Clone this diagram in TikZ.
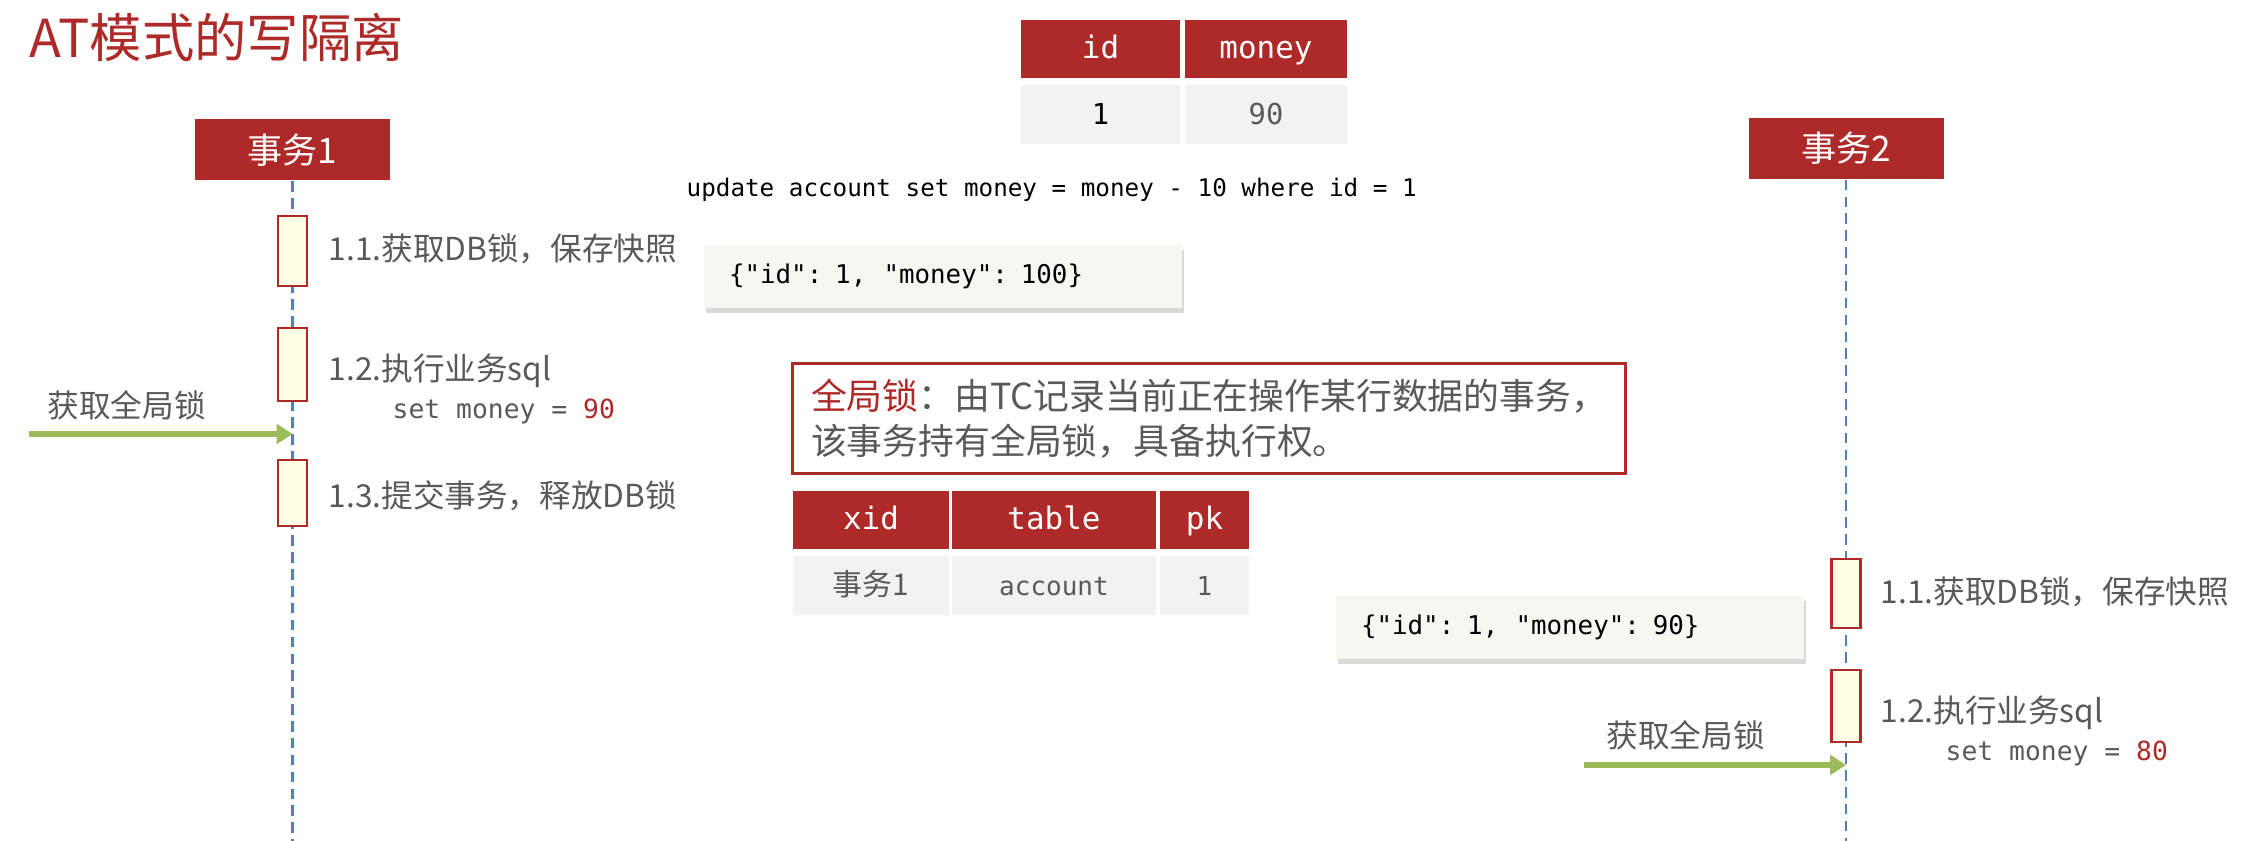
\documentclass[tikz,border=0pt]{standalone}
\usepackage{fontspec}
\setmainfont{Noto Sans CJK SC}
\newfontfamily\codefont{DejaVu Sans Mono}
\usetikzlibrary{positioning, arrows.meta, shadows}

\definecolor{atRed}{RGB}{174,42,40}
\definecolor{actFill}{RGB}{255,255,230}
\definecolor{lockGreen}{RGB}{155,187,89}
\definecolor{lifeBlue}{RGB}{79,129,189}
\definecolor{snapFill}{RGB}{244,248,240}
\definecolor{rowGray}{RGB}{242,242,242}
\definecolor{txtGray}{RGB}{89,89,89}

\begin{document}
\begin{tikzpicture}[
  font=\fontsize{9}{11}\selectfont,
  hdrbox/.style   = {fill=atRed, text=white, minimum width=1.95cm, minimum height=0.61cm, inner sep=0pt, font=\fontsize{10}{12}\selectfont},
  actbox/.style   = {draw=atRed, line width=0.8pt, fill=actFill, minimum width=0.29cm, inner sep=0pt},
  lifeline/.style = {lifeBlue, line width=0.6pt, dash pattern=on 3pt off 1.8pt},
  steplbl/.style  = {text=txtGray, anchor=west, inner sep=0pt},
  codelbl/.style  = {text=txtGray, anchor=west, inner sep=0pt, font=\codefont\fontsize{7.5}{9}\selectfont},
  lockarrow/.style = {lockGreen, line width=1.7pt, -{Triangle[length=4.5pt, width=5.5pt]}},
  snapbox/.style  = {fill=snapFill, drop shadow={shadow xshift=0.02cm, shadow yshift=-0.05cm, opacity=0.3},
                     minimum height=0.63cm, inner xsep=0.25cm, align=left, text=black, font=\codefont\fontsize{7.35}{9}\selectfont},
  thcell/.style   = {fill=atRed, text=white, inner sep=0pt, minimum height=0.58cm, text height=0.75em, text depth=0.2em,
                     font=\codefont\fontsize{8.8}{10}\selectfont},
  tdcell/.style   = {fill=rowGray, text=txtGray, inner sep=0pt, minimum height=0.59cm, text height=0.75em, text depth=0.2em},
]
\useasboundingbox (0,0) rectangle (22.54,-8.41);
\node[anchor=west, inner sep=0pt, text=atRed, font=\fontsize{14.9}{17}\selectfont] (title) at (0.29,-0.37) {AT模式的写隔离};

% transactions and their lifelines
\node[hdrbox] (tx1) at (2.925,-1.50) {事务1};
\node[hdrbox] (tx2) at (18.46,-1.485) {事务2};
\coordinate (tx1 end) at (2.925,-8.41);
\coordinate (tx2 end) at (18.46,-8.41);
\draw[lifeline] (tx1) -- (tx1 end);
\draw[lifeline] (tx2) -- (tx2 end);

% account row
\node[thcell, minimum width=1.59cm] (hId)    at (11.005,-0.49) {id};
\node[thcell, minimum width=1.62cm] (hMoney) at (12.66,-0.49)  {money};
\node[tdcell, minimum width=1.59cm, text=black, font=\codefont\fontsize{8.2}{10}\selectfont] (vId)    at (11.005,-1.15) {1};
\node[tdcell, minimum width=1.62cm, font=\codefont\fontsize{8.2}{10}\selectfont]             (vMoney) at (12.66,-1.15)  {90};
\node[anchor=west, inner sep=0pt, font=\codefont\fontsize{6.9}{8}\selectfont] (sql) at (6.86,-1.90)
  {update account set money = money - 10 where id = 1};

% transaction 1
\node[actbox, minimum height=0.70cm] (a11) at (2.925,-2.51) {};
\node[actbox, minimum height=0.73cm] (a12) at (2.925,-3.645) {};
\node[actbox, minimum height=0.66cm] (a13) at (2.925,-4.93) {};
\node[steplbl] (s11) at (3.28,-2.49) {1.1.获取DB锁，保存快照};
\node[steplbl] (s12) at (3.28,-3.71) {1.2.执行业务sql};
\node[codelbl] (m12) at (3.92,-4.11) {set money = \textcolor{atRed}{90}};
\node[steplbl] (s13) at (3.28,-4.96) {1.3.提交事务，释放DB锁};
\node[steplbl] (lockA lbl) at (0.47,-4.05) {获取全局锁};
\coordinate (lockA) at (0.29,-4.34);
\coordinate (lockA tip) at (2.925,-4.34);
\draw[lockarrow] (lockA) -- (lockA tip);
\node[snapbox, text width=4.28cm] (snap1) at (9.43,-2.765) {\{"id": 1,\ \ "money": 100\}};

% global lock note and lock table
\node[draw=atRed, line width=0.85pt, text=txtGray, text width=7.95cm, inner xsep=0.19cm, minimum height=1.10cm,
  align=left, font=\fontsize{10.2}{12.8}\selectfont] (gnote) at (12.085,-4.19)
  {\textcolor{atRed}{全局锁}：由TC记录当前正在操作某行数据的事务，\\该事务持有全局锁，具备执行权。};
\node[thcell, minimum width=1.56cm] (hXid)   at (8.71,-5.20)  {xid};
\node[thcell, minimum width=2.04cm] (hTable) at (10.54,-5.20) {table};
\node[thcell, minimum width=0.89cm] (hPk)    at (12.045,-5.20) {pk};
\node[tdcell, minimum width=1.56cm, font=\fontsize{8.5}{10}\selectfont]          (vXid)   at (8.71,-5.86)  {事务1};
\node[tdcell, minimum width=2.04cm, font=\codefont\fontsize{7.4}{9}\selectfont] (vTable) at (10.54,-5.86) {account};
\node[tdcell, minimum width=0.89cm, font=\codefont\fontsize{7.4}{9}\selectfont] (vPk)    at (12.045,-5.86) {1};

% transaction 2
\node[snapbox, text width=4.18cm] (snap2) at (15.70,-6.275) {\{"id": 1,\ \ "money": 90\}};
\node[actbox, minimum height=0.69cm] (b11) at (18.46,-5.935) {};
\node[actbox, minimum height=0.72cm] (b12) at (18.46,-7.06) {};
\node[steplbl] (t11) at (18.80,-5.92) {1.1.获取DB锁，保存快照};
\node[steplbl] (t12) at (18.80,-7.13) {1.2.执行业务sql};
\node[codelbl] (m22) at (19.45,-7.53) {set money = \textcolor{atRed}{80}};
\node[steplbl] (lockB lbl) at (16.06,-7.35) {获取全局锁};
\coordinate (lockB) at (15.84,-7.65);
\coordinate (lockB tip) at (18.46,-7.65);
\draw[lockarrow] (lockB) -- (lockB tip);
\end{tikzpicture}
\end{document}
